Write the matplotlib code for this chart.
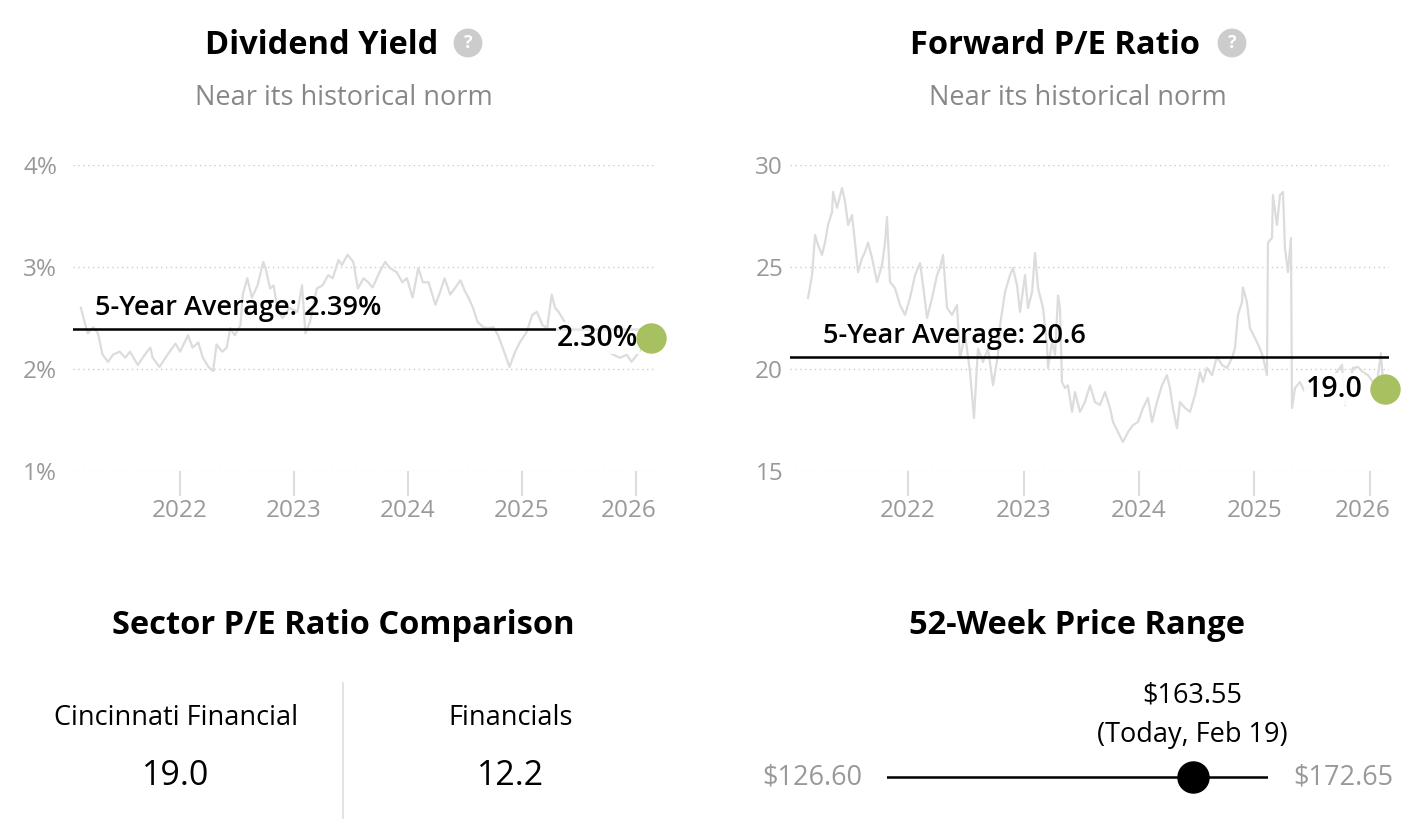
import matplotlib
matplotlib.use("Agg")
import matplotlib.pyplot as plt
from matplotlib.lines import Line2D
from matplotlib.transforms import ScaledTranslation

plt.rcParams['font.family'] = ['Open Sans', 'DejaVu Sans']

W, H = 1426, 840

# dividend yield (%), decimal years
div_years = [2021.13, 2021.17, 2021.19, 2021.24, 2021.28, 2021.32, 2021.37, 2021.41, 2021.47, 2021.52,
             2021.56, 2021.63, 2021.69, 2021.74, 2021.76, 2021.82, 2021.89, 2021.96, 2022.00, 2022.07,
             2022.11, 2022.16, 2022.20, 2022.25, 2022.29, 2022.32, 2022.37, 2022.41, 2022.44, 2022.48,
             2022.53, 2022.55, 2022.59, 2022.63, 2022.68, 2022.73, 2022.75, 2022.79, 2022.82, 2022.86,
             2022.90, 2022.96, 2023.03, 2023.07, 2023.10, 2023.14, 2023.20, 2023.25, 2023.30, 2023.34,
             2023.39, 2023.42, 2023.47, 2023.52, 2023.56, 2023.61, 2023.65, 2023.69, 2023.75, 2023.80,
             2023.84, 2023.90, 2023.95, 2023.99, 2024.04, 2024.09, 2024.13, 2024.18, 2024.24, 2024.28,
             2024.32, 2024.37, 2024.41, 2024.46, 2024.50, 2024.53, 2024.57, 2024.61, 2024.66, 2024.70,
             2024.75, 2024.79, 2024.83, 2024.89, 2024.94, 2024.98, 2025.04, 2025.09, 2025.13, 2025.18,
             2025.22, 2025.26, 2025.29, 2025.32, 2025.38, 2025.46, 2025.55, 2025.64, 2025.71, 2025.75,
             2025.80, 2025.86, 2025.92, 2025.96, 2026.01, 2026.05, 2026.13]
div_values = [2.60, 2.43, 2.35, 2.41, 2.35, 2.14, 2.07, 2.14, 2.17, 2.11,
              2.17, 2.04, 2.14, 2.21, 2.11, 2.02, 2.14, 2.25, 2.17, 2.33,
              2.21, 2.26, 2.11, 2.02, 1.98, 2.24, 2.17, 2.21, 2.40, 2.33,
              2.43, 2.73, 2.89, 2.70, 2.82, 3.05, 2.99, 2.79, 2.82, 2.56,
              2.50, 2.60, 2.56, 2.82, 2.35, 2.46, 2.79, 2.82, 2.92, 2.89,
              3.07, 3.02, 3.12, 3.05, 2.79, 2.89, 2.85, 2.80, 2.95, 3.05,
              2.99, 2.95, 2.85, 2.89, 2.70, 2.99, 2.85, 2.85, 2.63, 2.75,
              2.89, 2.73, 2.79, 2.87, 2.76, 2.70, 2.60, 2.46, 2.41, 2.40,
              2.41, 2.33, 2.21, 2.02, 2.17, 2.26, 2.36, 2.53, 2.56, 2.43,
              2.40, 2.73, 2.60, 2.56, 2.45, 2.40, 2.35, 2.30, 2.25, 2.17,
              2.14, 2.11, 2.14, 2.07, 2.14, 2.21, 2.30]
div_avg = 2.39
div_now = 2.30

# forward P/E, decimal years
pe_years = [2021.134, 2021.169, 2021.195, 2021.221, 2021.255, 2021.281, 2021.307, 2021.342, 2021.351, 2021.385,
            2021.429, 2021.455, 2021.481, 2021.515, 2021.541, 2021.567, 2021.602, 2021.628, 2021.654, 2021.688,
            2021.732, 2021.775, 2021.801, 2021.818, 2021.844, 2021.887, 2021.931, 2021.974, 2022.017, 2022.061,
            2022.104, 2022.130, 2022.165, 2022.208, 2022.251, 2022.277, 2022.303, 2022.338, 2022.381, 2022.424,
            2022.450, 2022.494, 2022.537, 2022.571, 2022.606, 2022.649, 2022.693, 2022.736, 2022.779, 2022.797,
            2022.840, 2022.883, 2022.909, 2022.944, 2022.970, 2023.013, 2023.039, 2023.074, 2023.100, 2023.126,
            2023.169, 2023.203, 2023.212, 2023.247, 2023.273, 2023.299, 2023.316, 2023.333, 2023.359, 2023.385,
            2023.420, 2023.446, 2023.489, 2023.532, 2023.576, 2023.619, 2023.662, 2023.706, 2023.749, 2023.775,
            2023.818, 2023.861, 2023.905, 2023.948, 2023.991, 2024.035, 2024.078, 2024.113, 2024.156, 2024.199,
            2024.242, 2024.268, 2024.294, 2024.329, 2024.355, 2024.398, 2024.442, 2024.485, 2024.528, 2024.554,
            2024.589, 2024.632, 2024.675, 2024.719, 2024.762, 2024.805, 2024.831, 2024.857, 2024.892, 2024.900,
            2024.935, 2024.961, 2025.004, 2025.048, 2025.074, 2025.108, 2025.117, 2025.152, 2025.160, 2025.195,
            2025.221, 2025.247, 2025.264, 2025.290, 2025.316, 2025.325, 2025.351, 2025.394, 2025.437, 2025.463,
            2025.524, 2025.584, 2025.654, 2025.706, 2025.758, 2025.784, 2025.853, 2025.896, 2025.939, 2025.983,
            2026.026, 2026.061, 2026.095, 2026.113, 2026.130]
pe_values = [23.48, 24.60, 26.57, 26.08, 25.59, 26.20, 27.06, 27.70, 28.68, 27.90,
             28.87, 28.20, 27.06, 27.55, 26.20, 24.75, 25.44, 25.74, 26.20, 25.44,
             24.26, 25.10, 26.20, 27.45, 24.26, 23.97, 23.14, 22.65, 23.48, 24.60,
             25.20, 24.10, 22.50, 23.48, 24.60, 24.95, 25.59, 22.99, 22.65, 23.14,
             20.54, 21.67, 19.85, 17.60, 21.00, 20.34, 21.00, 19.20, 20.70, 22.16,
             23.77, 24.60, 24.95, 24.10, 22.80, 24.60, 22.99, 23.77, 25.69, 23.97,
             22.99, 21.18, 20.05, 21.32, 20.70, 23.60, 22.99, 19.36, 19.07, 19.20,
             17.90, 18.87, 17.90, 18.38, 19.20, 18.38, 18.24, 18.87, 18.09, 17.40,
             16.91, 16.42, 16.91, 17.25, 17.40, 18.09, 18.58, 17.40, 18.38, 19.20,
             19.70, 19.07, 18.09, 17.10, 18.38, 18.09, 17.90, 18.73, 19.85, 19.36,
             20.05, 19.70, 20.59, 20.20, 20.05, 20.54, 21.00, 22.65, 23.28, 24.00,
             23.28, 22.00, 21.52, 21.00, 20.59, 19.70, 26.20, 26.42, 28.53, 27.06,
             28.53, 28.68, 25.93, 24.75, 26.42, 18.09, 19.07, 19.36, 18.87, 19.20,
             19.00, 18.60, 19.40, 19.80, 20.20, 18.24, 20.05, 20.10, 19.85, 19.70,
             19.36, 19.30, 20.78, 19.36, 19.00]
pe_avg = 20.6
pe_now = 19.0

years = [2022, 2023, 2024, 2025, 2026]

sector_names = ['Cincinnati Financial', 'Financials']
sector_pe = [19.0, 12.2]

low_52, high_52, price_now = 126.60, 172.65, 163.55
today_label = 'Today, Feb 19'

GREEN = '#a8c160'
LINE_GREY = '#dcdcdc'
TICK_GREY = '#999999'

fig = plt.figure(figsize=(W / 100, H / 100), dpi=100)


def px_axes(left, top, right, bottom):
    return fig.add_axes([left / W, 1 - bottom / H, (right - left) / W, (bottom - top) / H])


def fig_text(x, y, s, **kw):
    fig.text(x / W, 1 - y / H, s, **kw)


def line_panel(ax, xs, ys, avg, now, xlim, ylim, yticks, yfmt, avg_label, now_label,
               ypad, avg_x, now_dx):
    ax.set_xlim(*xlim)
    ax.set_ylim(*ylim)
    for s in ax.spines.values():
        s.set_visible(False)
    for v in yticks:
        ax.axhline(v, color='#cccccc', lw=1, ls=(0, (1, 2.5)), zorder=0)
    ax.plot(xs, ys, color=LINE_GREY, lw=1.6, zorder=1)
    ax.axhline(avg, color='black', lw=1.8, zorder=2)
    ax.annotate(avg_label, (avg_x, avg), xycoords=ax.get_yaxis_transform(),
                xytext=(0, 5), textcoords='offset points', fontsize=19.5,
                fontweight='semibold', va='bottom', ha='left', zorder=3)
    ax.annotate(now_label, (xs[-1], now), xytext=(now_dx, 0), textcoords='offset points',
                fontsize=20.5, fontweight='semibold', ha='right', va='center', zorder=3,
                bbox=dict(boxstyle='square,pad=0.05', fc='white', ec='none', alpha=0.9))
    ax.scatter([xs[-1]], [now], s=480, color=GREEN, zorder=4, clip_on=False, linewidths=0)
    ax.set_yticks(yticks)
    ax.set_yticklabels([yfmt(v) for v in yticks])
    ax.set_xticks(years)
    ax.set_xticklabels([str(y) for y in years])
    ax.tick_params(axis='x', length=18, width=1.5, color='#dddddd', labelcolor=TICK_GREY,
                   labelsize=17.5, pad=2.5)
    ax.tick_params(axis='y', length=0, labelcolor=TICK_GREY, labelsize=17.5, pad=ypad)
    last = ax.get_xticklabels()[-1]
    last.set_transform(last.get_transform() + ScaledTranslation(-0.07, 0, fig.dpi_scale_trans))


# Dividend yield panel
fig_text(322, 45, 'Dividend Yield', fontsize=23.5, fontweight='bold', ha='center', va='center')
fig_text(468, 43, '?', fontsize=13, fontweight='bold', color='white', ha='center', va='center',
         bbox=dict(boxstyle='circle,pad=0.3', fc='#cccccc', ec='none'))
fig_text(344, 98, 'Near its historical norm', fontsize=19.5, color='#888888', ha='center', va='center')

ax1 = px_axes(73, 165, 657, 471)
line_panel(ax1, div_years, div_values, div_avg, div_now, (2021.061, 2026.184), (1, 4),
           [1, 2, 3, 4], lambda v: f'{v:.0f}%', f'5-Year Average: {div_avg:.2f}%',
           f'{div_now:.2f}%', 11.5, 0.038, -9)

# Forward P/E panel
fig_text(1055, 45, 'Forward P/E Ratio', fontsize=23.5, fontweight='bold', ha='center', va='center')
fig_text(1232, 43, '?', fontsize=13, fontweight='bold', color='white', ha='center', va='center',
         bbox=dict(boxstyle='circle,pad=0.3', fc='#cccccc', ec='none'))
fig_text(1078, 98, 'Near its historical norm', fontsize=19.5, color='#888888', ha='center', va='center')

ax2 = px_axes(790, 165, 1389, 471)
line_panel(ax2, pe_years, pe_values, pe_avg, pe_now, (2020.978, 2026.165), (15, 30),
           [15, 20, 25, 30], lambda v: f'{v:.0f}', f'5-Year Average: {pe_avg:.1f}',
           f'{pe_now:.1f}', 5, 0.055, -16)

# Sector P/E comparison
fig_text(343, 625, 'Sector P/E Ratio Comparison', fontsize=23.5, fontweight='bold', ha='center', va='center')
for cx, name, val in zip([176, 511], sector_names, sector_pe):
    fig_text(cx, 718, name, fontsize=19.5, ha='center', va='center')
    fig_text(cx, 776, f'{val:.1f}', fontsize=24.5, ha='center', va='center')
fig.add_artist(Line2D([343 / W, 343 / W], [1 - 683 / H, 1 - 818 / H], color='#dddddd', lw=1.2))

# 52-week range
fig_text(1077, 625, '52-Week Price Range', fontsize=23.5, fontweight='bold', ha='center', va='center')
ax3 = px_axes(887, 757, 1268, 797)
ax3.set_xlim(low_52, high_52)
ax3.set_ylim(-1, 1)
ax3.axis('off')
ax3.plot([low_52, high_52], [0, 0], color='black', lw=1.8)
ax3.scatter([price_now], [0], s=500, color='black', zorder=3, clip_on=False)
fig_text(862, 777, f'${low_52:.2f}', fontsize=19.5, color='#999999', ha='right', va='center')
fig_text(1293, 777, f'${high_52:.2f}', fontsize=19.5, color='#999999', ha='left', va='center')
ax3.text(price_now, 4.1, f'${price_now:.2f}', fontsize=19.5, ha='center', va='center')
ax3.text(price_now, 2.1, f'({today_label})', fontsize=19.5, ha='center', va='center')

fig.savefig('out.png', dpi=100)
